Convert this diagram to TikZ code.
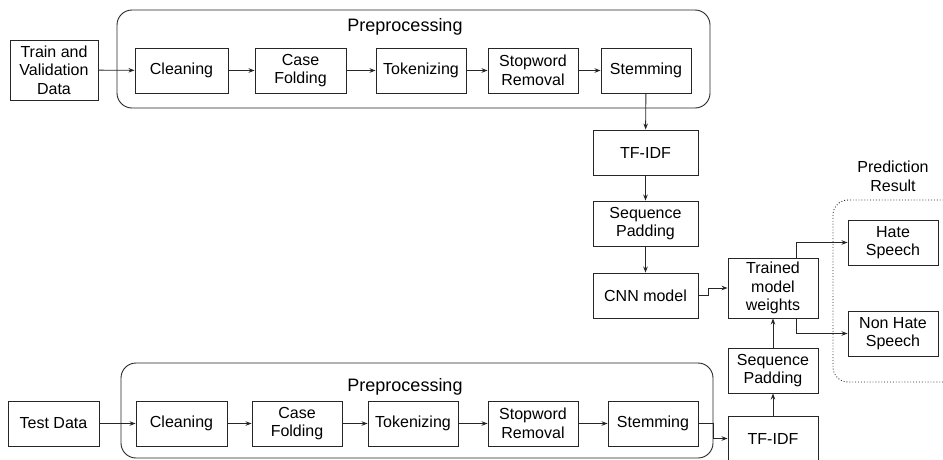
\documentclass[tikz,border=0pt]{standalone}
\usepackage{fontspec}
\setmainfont{Liberation Sans}
\usetikzlibrary{arrows.meta}

\begin{document}
\begin{tikzpicture}[x=1pt,y=-1pt]
    \useasboundingbox (0,0) rectangle (943,459);
    \clip (0,0) rectangle (943,459);
    \tikzset{BoxStyle/.style = {%
        draw=black!85,
        line width=0.9pt,
        align=center,
        inner sep=1pt,
        minimum height=45,
        font=\fontsize{16}{18.5}\selectfont},
      GroupStyle/.style = {draw=black!85, line width=0.9pt, rounded corners=15},
      ArrowStyle/.style = {draw=black!85, line width=0.9pt,
        -{Stealth[length=6pt,width=4.5pt]}},
      LabelStyle/.style = {align=center, font=\fontsize{16}{19}\selectfont}}
    % training branch
    \draw[GroupStyle] (117,10) rectangle (710,108);
    \node[LabelStyle,font=\fontsize{18}{21}\selectfont] (prepA) at (405,27) {Preprocessing};
    \node[BoxStyle,minimum width=88,minimum height=60] (train) at (54,70) {Train and\\Validation\\Data};
    \node[BoxStyle,minimum width=93] (cleanA) at (181.5,70.5) {Cleaning};
    \node[BoxStyle,minimum width=91] (caseA) at (300.5,70.5) {Case\\Folding};
    \node[BoxStyle,minimum width=90] (tokA) at (421,70.5) {Tokenizing};
    \node[BoxStyle,minimum width=90] (stopA) at (533,70.5) {Stopword\\Removal};
    \node[BoxStyle,minimum width=90] (stemA) at (646,70.5) {Stemming};
    \node[BoxStyle,minimum width=105] (tfidfA) at (645.5,152.5) {TF-IDF};
    \node[BoxStyle,minimum width=105] (seqA) at (645.5,223.5) {Sequence\\Padding};
    \node[BoxStyle,minimum width=105] (cnn) at (645.5,295.5) {CNN model};
    \node[BoxStyle,minimum width=90,minimum height=60] (trained) at (773,288) {Trained\\model\\weights};
    % prediction result
    \draw[GroupStyle,dotted] (833,200) rectangle (970,382);
    \node[LabelStyle] (pred) at (893,176) {Prediction\\Result};
    \node[BoxStyle,minimum width=90] (hate) at (893,242.5) {Hate\\Speech};
    \node[BoxStyle,minimum width=90] (nonhate) at (893,333.5) {Non Hate\\Speech};
    % test branch
    \draw[GroupStyle] (121,363) rectangle (713,458);
    \node[LabelStyle,font=\fontsize{18}{21}\selectfont] (prepB) at (405,387) {Preprocessing};
    \node[BoxStyle,minimum width=91] (test) at (53.5,423.5) {Test Data};
    \node[BoxStyle,minimum width=91] (cleanB) at (181.5,423.5) {Cleaning};
    \node[BoxStyle,minimum width=90] (caseB) at (297,423.5) {Case\\Folding};
    \node[BoxStyle,minimum width=90] (tokB) at (413,423.5) {Tokenizing};
    \node[BoxStyle,minimum width=90] (stopB) at (533,423.5) {Stopword\\Removal};
    \node[BoxStyle,minimum width=90] (stemB) at (653,423.5) {Stemming};
    \node[BoxStyle,minimum width=90] (tfidfB) at (773,438.5) {TF-IDF};
    \node[BoxStyle,minimum width=90] (seqB) at (773,370.5) {Sequence\\Padding};
    % connectors
    \draw[ArrowStyle] (train) -- (cleanA);
    \draw[ArrowStyle] (cleanA) -- (caseA);
    \draw[ArrowStyle] (caseA) -- (tokA);
    \draw[ArrowStyle] (tokA) -- (stopA);
    \draw[ArrowStyle] (stopA) -- (stemA);
    \draw[ArrowStyle] (stemA) -- (tfidfA);
    \draw[ArrowStyle] (tfidfA) -- (seqA);
    \draw[ArrowStyle] (seqA) -- (cnn);
    \draw[ArrowStyle] (cnn.east) -- ++(10,0) |- (trained.west);
    \draw[ArrowStyle] ([xshift=23pt]trained.north) |- (hate.west);
    \draw[ArrowStyle] ([xshift=23pt]trained.south) |- (nonhate.west);
    \draw[ArrowStyle] (test) -- (cleanB);
    \draw[ArrowStyle] (cleanB) -- (caseB);
    \draw[ArrowStyle] (caseB) -- (tokB);
    \draw[ArrowStyle] (tokB) -- (stopB);
    \draw[ArrowStyle] (stopB) -- (stemB);
    \draw[ArrowStyle] (stemB.east) -- ++(15,0) |- (tfidfB.west);
    \draw[ArrowStyle] (tfidfB) -- (seqB);
    \draw[ArrowStyle] (seqB) -- (trained);
 \end{tikzpicture}
\end{document}
